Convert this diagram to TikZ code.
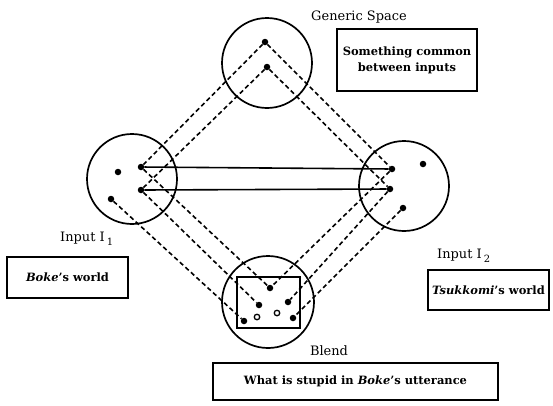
\documentclass[tikz,border=0pt]{standalone}
\usepackage{fontspec}
\setmainfont{DejaVu Serif}
\begin{document}
\begin{tikzpicture}[x=1bp,y=-1bp,
  ring/.style={circle,draw,line width=1.7bp,minimum size=#1,inner sep=0pt},
  dot/.style={circle,fill,inner sep=0pt,minimum size=6.5bp},
  odot/.style={circle,draw,line width=1.3bp,inner sep=0pt,minimum size=5.5bp},
  link/.style={line width=1.6bp,dash pattern=on 4.5bp off 3bp},
  tie/.style={line width=1.6bp},
  box/.style={draw,line width=1.5bp,inner sep=0pt,align=center,font=\fontsize{11.5}{16}\selectfont\bfseries},
  lbl/.style={inner sep=0pt,font=\fontsize{13}{15}\selectfont}]
\useasboundingbox (0,0) rectangle (553,405);

% circles
\node[ring=90bp] (G) at (267,63) {};
\node[ring=90bp] (L) at (132,179) {};
\node[ring=90bp] (R) at (404,186) {};
\node[ring=92bp] (B) at (268,302) {};
\node[draw,line width=1.5bp,minimum width=63bp,minimum height=51bp,inner sep=0pt] (BR) at (268.5,302.5) {};

% dots
\node[dot] (g1) at (265,42) {};
\node[dot] (g2) at (267,67) {};
\node[dot] (l0) at (118,172) {};
\node[dot] (l1) at (141,167) {};
\node[dot] (l2) at (141,190) {};
\node[dot] (l3) at (111,199) {};
\node[dot] (r0) at (423,164) {};
\node[dot] (r1) at (392,169) {};
\node[dot] (r2) at (390,189) {};
\node[dot] (r3) at (403,208) {};
\node[dot] (b1) at (270,288) {};
\node[dot] (b2) at (259,305) {};
\node[dot] (b3) at (288,302) {};
\node[dot] (b4) at (244,321) {};
\node[dot] (b5) at (293,318) {};
\node[odot] (o1) at (257,317) {};
\node[odot] (o2) at (277,313) {};

% connectors
\draw[link] (g1) -- (l1);
\draw[link] (g2) -- (l2);
\draw[link] (g1) -- (r1);
\draw[link] (g2) -- (r2);
\draw[link] (l1) -- (b1);
\draw[link] (l2) -- (b2);
\draw[link] (l3) -- (b4);
\draw[link] (r1) -- (b1);
\draw[link] (r2) -- (b3);
\draw[link] (r3) -- (b5);
\draw[tie] (l1) -- (r1);
\draw[tie] (l2) -- (r2);

% labels
\node[lbl] (tG) at (359,17) {Generic Space};
\node[lbl,anchor=base west] (tL) at (60,241) {Input I\,\raisebox{-4bp}{\fontsize{10}{12}\selectfont 1}};
\node[lbl,anchor=base west] (tR) at (437,258) {Input I\,\raisebox{-4bp}{\fontsize{10}{12}\selectfont 2}};
\node[lbl] (tB) at (329,351) {Blend};

% boxes
\node[box,minimum width=140bp,minimum height=62bp] (kG) at (407,60) {Something common\\between inputs};
\node[box,minimum width=121bp,minimum height=41bp] (kL) at (67.5,277.5) {\textit{Boke}'s world};
\node[box,minimum width=121bp,minimum height=40bp] (kR) at (488.5,290) {\textit{Tsukkomi}'s world};
\node[box,minimum width=285bp,minimum height=37bp] (kB) at (355.5,381.5) {What is stupid in \textit{Boke}'s utterance};
\end{tikzpicture}
\end{document}
